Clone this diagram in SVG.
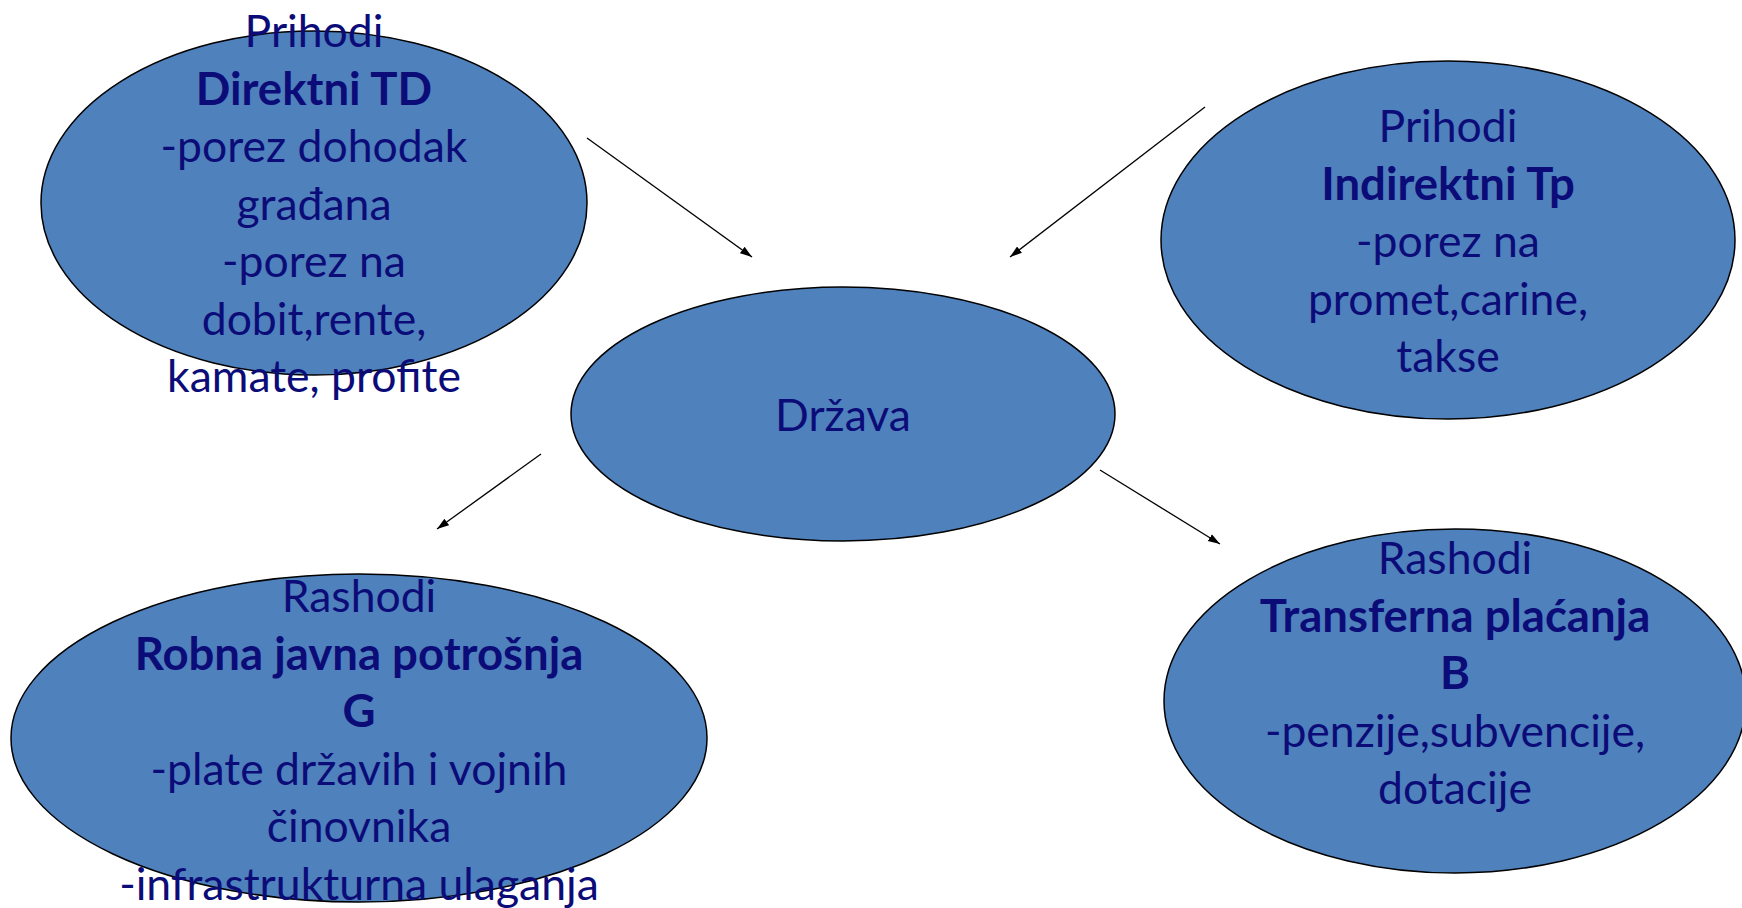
<svg xmlns="http://www.w3.org/2000/svg" width="1742" height="908" viewBox="0 0 1742 908">
<style>
.n{fill:#4F81BD;stroke:#000;stroke-width:1.5}
.t{font-family:Lato,"Liberation Sans",sans-serif;font-size:44.5px;fill:#0C0C78;text-anchor:middle}
.b{font-weight:bold;font-size:45.5px}
.c{stroke:#000;stroke-width:1.3;fill:none;marker-end:url(#ah)}
</style>
<defs>
<marker id="ah" viewBox="0 0 12 10" refX="12" refY="5" markerWidth="12" markerHeight="10" markerUnits="userSpaceOnUse" orient="auto">
<path d="M0,1 L12,5 L0,9 Z" fill="#000"/>
</marker>
</defs>
<rect width="1742" height="908" fill="#fff"/>
<g id="connectors">
<line class="c" x1="587" y1="138" x2="752" y2="257"/>
<line class="c" x1="1205" y1="107" x2="1010" y2="257"/>
<line class="c" x1="541" y1="454" x2="437" y2="529"/>
<line class="c" x1="1100" y1="470" x2="1220" y2="544"/>
</g>
<g id="prihodi-td">
<ellipse class="n" cx="314" cy="203" rx="273" ry="172"/>
<text class="t" x="314" y="47">Prihodi</text>
<text class="t b" x="314" y="104.5">Direktni TD</text>
<text class="t" x="314" y="162">-porez dohodak</text>
<text class="t" x="314" y="219.5">građana</text>
<text class="t" x="314" y="277">-porez na</text>
<text class="t" x="314" y="334.5">dobit,rente,</text>
<text class="t" x="314" y="392">kamate, profite</text>
</g>
<g id="drzava">
<ellipse class="n" cx="843" cy="414" rx="272" ry="127"/>
<text class="t" x="843" y="431">Država</text>
</g>
<g id="prihodi-tp">
<ellipse class="n" cx="1448" cy="240" rx="287" ry="179"/>
<text class="t" x="1448" y="142">Prihodi</text>
<text class="t b" x="1448" y="199.5">Indirektni Tp</text>
<text class="t" x="1448" y="257">-porez na</text>
<text class="t" x="1448" y="314.5">promet,carine,</text>
<text class="t" x="1448" y="372">takse</text>
</g>
<g id="rashodi-g">
<ellipse class="n" cx="359" cy="738" rx="348" ry="164"/>
<text class="t" x="359" y="612">Rashodi</text>
<text class="t b" x="359" y="669.5">Robna javna potrošnja</text>
<text class="t b" x="359" y="727">G</text>
<text class="t" x="359" y="784.5">-plate državih i vojnih</text>
<text class="t" x="359" y="842">činovnika</text>
<text class="t" x="359" y="899.5">-infrastrukturna ulaganja</text>
</g>
<g id="rashodi-b">
<ellipse class="n" cx="1455" cy="701" rx="291" ry="172"/>
<text class="t" x="1455" y="574">Rashodi</text>
<text class="t b" x="1455" y="631.5">Transferna plaćanja</text>
<text class="t b" x="1455" y="689">B</text>
<text class="t" x="1455" y="746.5">-penzije,subvencije,</text>
<text class="t" x="1455" y="804">dotacije</text>
</g>
</svg>
